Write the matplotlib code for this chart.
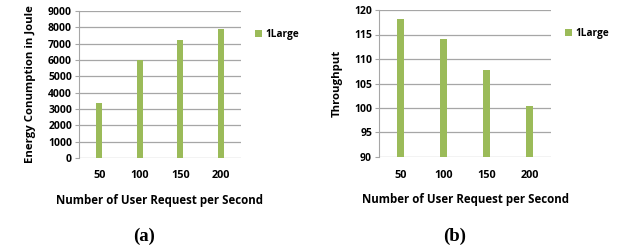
import matplotlib.pyplot as plt
import numpy as np

# Data
requests = ["50", "100", "150", "200"]
energy = [3380, 6030, 7220, 7900]
throughput = [118.1, 114.0, 107.8, 100.5]
energy_ticks = [0, 1000, 2000, 3000, 4000, 5000, 6000, 7000, 8000, 9000]
tput_ticks = [90, 95, 100, 105, 110, 115, 120]

green = '#9BBB59'
grid_col = '#A6A6A6'
plt.rcParams['font.family'] = ['Open Sans', 'DejaVu Sans']
plt.rcParams['font.weight'] = 'bold'

fig = plt.figure(figsize=(6.19, 2.5), dpi=100)
ax1 = fig.add_axes([0.1276, 0.368, 0.2617, 0.588])
ax2 = fig.add_axes([0.6123, 0.372, 0.2779, 0.588])

x = np.arange(len(requests))


def style(ax, ticks, ylabel, ypad):
    ax.set_ylim(ticks[0], ticks[-1])
    ax.set_yticks(ticks)
    ax.set_xlim(-0.5, len(requests) - 0.5)
    ax.set_xticks(x)
    ax.set_xticklabels(requests)
    ax.grid(axis='y', color=grid_col, linewidth=0.9)
    ax.set_axisbelow(True)
    for s in ['top', 'right', 'bottom']:
        ax.spines[s].set_visible(False)
    ax.spines['left'].set_color(grid_col)
    ax.tick_params(axis='y', length=3, color=grid_col, labelsize=7.5, pad=2)
    ax.tick_params(axis='x', length=0, labelsize=7.8, pad=9)
    for lbl in ax.get_xticklabels() + ax.get_yticklabels():
        lbl.set_fontweight('bold')
    ax.set_xlabel('Number of User Request per Second', fontsize=8.3,
                  fontweight='bold', labelpad=9)
    ax.set_ylabel(ylabel, fontsize=8.2, fontweight='bold', labelpad=ypad)
    ax.legend(loc='upper left', bbox_to_anchor=(1.03, 0.94), frameon=False,
              handlelength=0.7, handleheight=0.7, handletextpad=0.3,
              prop={'weight': 'bold', 'size': 7.3})


ax1.bar(x, energy, width=0.15, color=green, label='1Large')
style(ax1, energy_ticks, 'Energy Conumption in Joule', 9)

ax2.bar(x, throughput, width=0.15, color=green, label='1Large')
style(ax2, tput_ticks, 'Throughput', 8)

fig.text(0.232, 0.035, '(a)', family='Liberation Serif', fontweight='bold',
         fontsize=13.5, ha='center')
fig.text(0.735, 0.035, '(b)', family='Liberation Serif', fontweight='bold',
         fontsize=13.5, ha='center')

fig.savefig('out.png', dpi=100)
